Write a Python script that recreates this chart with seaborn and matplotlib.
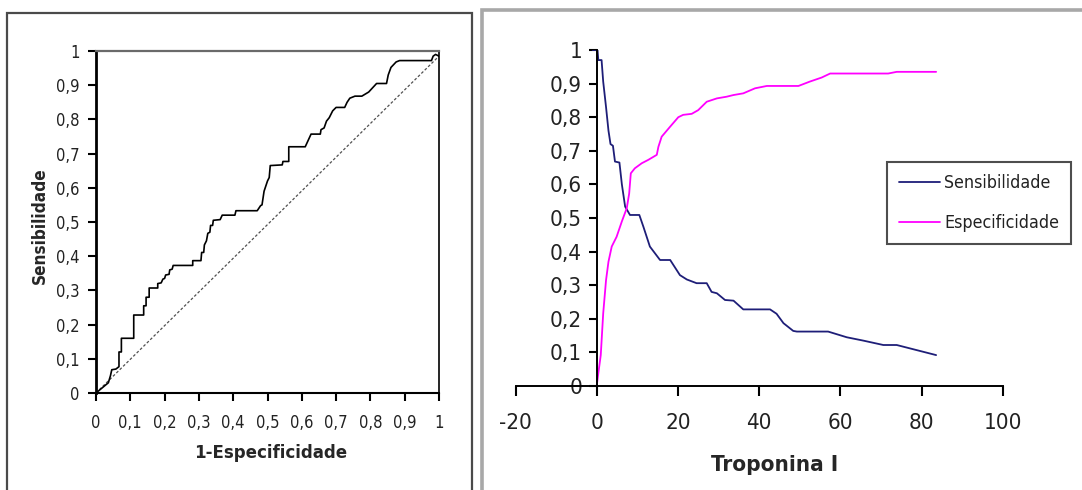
import matplotlib
matplotlib.use("Agg")
import matplotlib.pyplot as plt
from matplotlib import font_manager as fm
from matplotlib.patches import Rectangle
import seaborn as sns
import pandas as pd

# ---------------- data ----------------
roc_fpr = [0, 0.036, 0.042, 0.046, 0.058, 0.067, 0.067, 0.074, 0.074, 0.11, 0.11, 0.139, 0.139,
           0.146, 0.146, 0.155, 0.155, 0.18, 0.18, 0.19, 0.195, 0.2, 0.203, 0.213, 0.215, 0.222,
           0.225, 0.282, 0.282, 0.306, 0.308, 0.314, 0.316, 0.322, 0.326, 0.332, 0.334, 0.34,
           0.342, 0.362, 0.368, 0.405, 0.408, 0.47, 0.48, 0.484, 0.49, 0.5, 0.505, 0.508, 0.543,
           0.545, 0.562, 0.562, 0.61, 0.627, 0.654, 0.656, 0.665, 0.672, 0.68, 0.69, 0.7, 0.725,
           0.732, 0.74, 0.755, 0.775, 0.795, 0.818, 0.847, 0.852, 0.86, 0.875, 0.885, 0.978,
           0.983, 0.99, 1.0]
roc_tpr = [0, 0.03, 0.05, 0.068, 0.07, 0.077, 0.12, 0.12, 0.16, 0.16, 0.228, 0.228, 0.255,
           0.255, 0.28, 0.28, 0.307, 0.307, 0.32, 0.322, 0.333, 0.335, 0.345, 0.347, 0.36, 0.362,
           0.373, 0.373, 0.387, 0.387, 0.411, 0.411, 0.433, 0.445, 0.467, 0.47, 0.49, 0.49,
           0.505, 0.507, 0.52, 0.52, 0.533, 0.533, 0.548, 0.55, 0.59, 0.62, 0.63, 0.665, 0.667,
           0.677, 0.677, 0.72, 0.72, 0.757, 0.757, 0.77, 0.775, 0.795, 0.805, 0.825, 0.835, 0.835,
           0.85, 0.862, 0.868, 0.868, 0.88, 0.905, 0.905, 0.93, 0.952, 0.968, 0.972, 0.972,
           0.985, 0.99, 0.985]
diag_x = [0, 1.0]
diag_y = [0, 0.985]

sens_trop = [-1.0, 0.2, 0.4, 1.2, 1.6, 2.3, 2.9, 3.4, 4.0, 4.5, 5.6, 6.2, 7.0, 8.2, 10.5, 11.5,
             13.1, 15.6, 18.1, 20.5, 22.2, 24.6, 27.1, 28.3, 29.6, 31.6, 33.7, 36.1, 42.7, 44.3,
             46.0, 48.4, 49.3, 57.0, 61.6, 65.7, 70.6, 73.9, 83.6]
sens_vals = [1.0, 1.0, 0.97, 0.97, 0.906, 0.83, 0.76, 0.72, 0.715, 0.668, 0.665, 0.60, 0.534,
             0.509, 0.509, 0.474, 0.415, 0.375, 0.375, 0.33, 0.317, 0.306, 0.306, 0.28, 0.276,
             0.256, 0.254, 0.228, 0.228, 0.215, 0.187, 0.164, 0.162, 0.162, 0.145, 0.135, 0.122,
             0.122, 0.092]
spec_trop = [0.0, 0.4, 1.0, 1.6, 2.3, 2.9, 3.7, 4.9, 6.2, 7.4, 8.0, 8.4, 9.4, 11.1, 12.7, 14.8,
             15.2, 16.0, 18.1, 20.1, 21.3, 23.4, 25.0, 27.1, 29.6, 32.0, 33.7, 36.1, 39.0, 41.9,
             49.7, 52.5, 55.4, 57.5, 71.8, 73.9, 83.6]
spec_vals = [0.0, 0.038, 0.092, 0.216, 0.315, 0.37, 0.415, 0.444, 0.49, 0.529, 0.573, 0.633,
             0.648, 0.663, 0.673, 0.688, 0.712, 0.742, 0.772, 0.80, 0.807, 0.81, 0.821, 0.846,
             0.856, 0.861, 0.866, 0.871, 0.886, 0.893, 0.893, 0.906, 0.918, 0.93, 0.93, 0.935,
             0.935]

unit_ticks = [0, 0.1, 0.2, 0.3, 0.4, 0.5, 0.6, 0.7, 0.8, 0.9, 1.0]
unit_labels = ["0", "0,1", "0,2", "0,3", "0,4", "0,5", "0,6", "0,7", "0,8", "0,9", "1"]
trop_ticks = [-20, 0, 20, 40, 60, 80, 100]
trop_labels = ["-20", "0", "20", "40", "60", "80", "100"]

# ---------------- style ----------------
sns.set_style("ticks")

# prefer a narrow sans (the reference text is horizontally condensed)
fnames = [f.fname for f in fm.fontManager.ttflist]
STRETCH = "normal"
SCALE = 0.9
if any("LiberationSansNarrow" in f for f in fnames):
    FONT = ["Liberation Sans Narrow", "Liberation Sans", "DejaVu Sans"]
    SCALE = 1.0
elif any("DejaVuSansCondensed" in f for f in fnames):
    FONT = ["DejaVu Sans"]
    STRETCH = "condensed"
    SCALE = 0.95
else:
    FONT = ["Liberation Sans", "DejaVu Sans"]
plt.rcParams["font.family"] = FONT

W, H = 1082, 490
fig = plt.figure(figsize=(W / 100, H / 100), dpi=100)
fig.patch.set_facecolor("white")


def fx(px):
    return px / W


def fy(py):
    return 1 - py / H


def condense(texts):
    for t in texts:
        t.set_fontstretch(STRETCH)


# panel frames
fig.patches.append(Rectangle((fx(7), fy(500)), fx(472 - 7), fy(13) - fy(500),
                             transform=fig.transFigure, fill=False,
                             edgecolor="#4a4a4a", linewidth=1.6, zorder=0))
fig.patches.append(Rectangle((fx(482), fy(500)), fx(1100 - 482), fy(10) - fy(500),
                             transform=fig.transFigure, fill=False,
                             edgecolor="#a8a8a8", linewidth=2.6, zorder=0))

# ---------------- left: ROC ----------------
ax1 = fig.add_axes([fx(96), fy(393), fx(439 - 96), fy(51) - fy(393)])
roc_df = pd.DataFrame({"fpr": roc_fpr, "tpr": roc_tpr})
diag_df = pd.DataFrame({"x": diag_x, "y": diag_y})
sns.lineplot(data=diag_df, x="x", y="y", ax=ax1, color="#505050", linewidth=0.9,
             estimator=None, sort=False)
ax1.lines[-1].set_dashes((2.2, 1.6))
sns.lineplot(data=roc_df, x="fpr", y="tpr", ax=ax1, color="black", linewidth=1.2,
             estimator=None, sort=False)
ax1.set_xlim(0, 1)
ax1.set_ylim(0, 1)
ax1.set_xticks(unit_ticks)
ax1.set_xticklabels(unit_labels)
ax1.set_yticks(unit_ticks)
ax1.set_yticklabels(unit_labels)
ax1.tick_params(axis="both", which="major", direction="out", length=6, width=1.5,
                color="black", bottom=True, left=True,
                labelsize=12.5 * SCALE, labelcolor="#222222")
ax1.tick_params(axis="x", pad=9)
ax1.tick_params(axis="y", pad=6)
for side, lw, col in [("left", 2.0, "black"), ("bottom", 1.5, "black"),
                      ("top", 1.6, "#6a6a6a"), ("right", 1.2, "black")]:
    ax1.spines[side].set_visible(True)
    ax1.spines[side].set_linewidth(lw)
    ax1.spines[side].set_color(col)
ax1.set_xlabel("1-Especificidade", fontsize=14 * SCALE, fontweight="bold", va="center")
ax1.xaxis.set_label_coords((271 - 96) / 343, (393 - 453) / 342)
ax1.set_ylabel("Sensibilidade", fontsize=13 * SCALE, fontweight="bold", va="center")
ax1.yaxis.set_label_coords((40 - 96) / 343, 0.49)
condense(ax1.get_xticklabels() + ax1.get_yticklabels() +
         [ax1.xaxis.label, ax1.yaxis.label])

# ---------------- right: Troponina ----------------
x_left, x_right = 515.5, 1002.7
ax2 = fig.add_axes([fx(x_left), fy(386), fx(x_right - x_left), fy(50) - fy(386)])
sens_df = pd.DataFrame({"trop": sens_trop, "val": sens_vals, "serie": "Sensibilidade"})
spec_df = pd.DataFrame({"trop": spec_trop, "val": spec_vals, "serie": "Especificidade"})
curves = pd.concat([sens_df, spec_df], ignore_index=True)
sns.lineplot(data=curves, x="trop", y="val", hue="serie",
             palette={"Sensibilidade": "#1e1e78", "Especificidade": "#ff00ff"},
             linewidth=1.3, estimator=None, sort=False, ax=ax2)
ax2.set_xlim(-20, 100)
ax2.set_ylim(0, 1)
ax2.set_xticks(trop_ticks)
ax2.set_xticklabels(trop_labels)
ax2.set_yticks(unit_ticks)
ax2.set_yticklabels(unit_labels)
ax2.spines["left"].set_position(("data", 0))
ax2.spines["top"].set_visible(False)
ax2.spines["right"].set_visible(False)
for side in ["left", "bottom"]:
    ax2.spines[side].set_linewidth(1.4)
    ax2.spines[side].set_color("black")
RSIZE = 16 if STRETCH == "condensed" else (17 if SCALE == 1.0 else 15.5)
ax2.tick_params(axis="both", which="major", direction="out", width=1.5, color="black",
                bottom=True, left=True, labelsize=RSIZE, labelcolor="#222222")
ax2.tick_params(axis="x", length=7.5, pad=12)
ax2.tick_params(axis="y", length=5.5, pad=5)
ax2.set_xlabel("Troponina I", fontsize=17 * SCALE, fontweight="bold", va="center")
ax2.xaxis.set_label_coords((775 - x_left) / (x_right - x_left), (386 - 465) / 336)
ax2.set_ylabel("")

handles, labels = ax2.get_legend_handles_labels()
leg = ax2.legend(handles, labels, loc="upper left",
                 bbox_to_anchor=(fx(887), fy(162)), bbox_transform=fig.transFigure,
                 borderaxespad=0, frameon=True, fancybox=False, shadow=False,
                 fontsize=13.5 * SCALE, handlelength=2.3, handletextpad=0.2,
                 labelspacing=1.2, borderpad=0.7, title=None)
leg.get_frame().set_edgecolor("#222222")
leg.get_frame().set_linewidth(1.5)
for t in leg.get_texts():
    t.set_color("#222222")
condense(ax2.get_xticklabels() + ax2.get_yticklabels() + [ax2.xaxis.label] +
         list(leg.get_texts()))

fig.savefig("out.png", dpi=100, facecolor="white")
